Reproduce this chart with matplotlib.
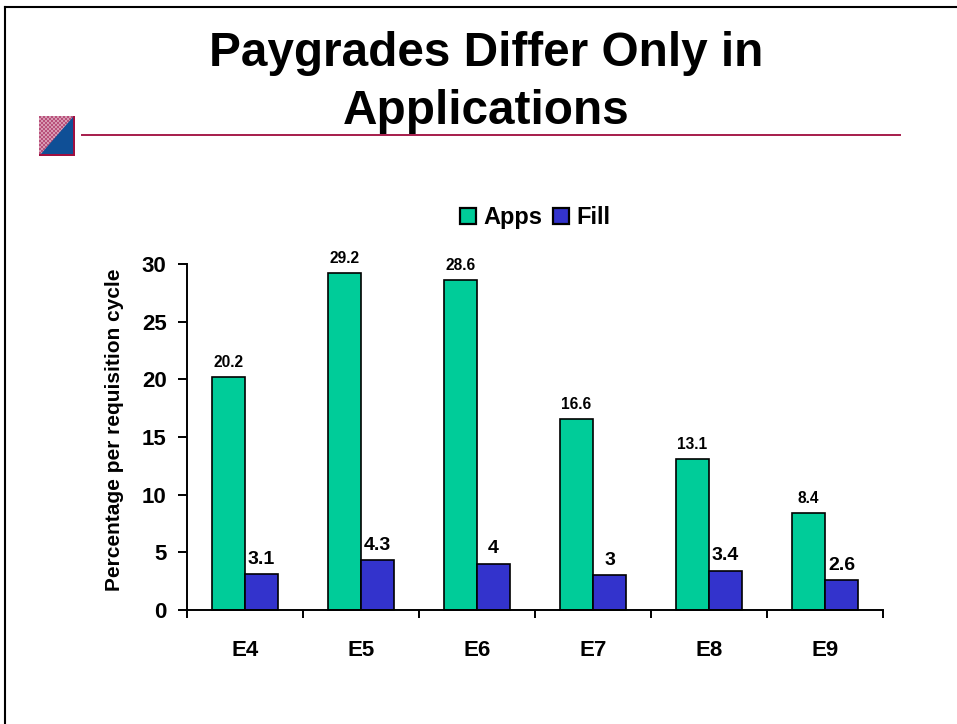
import matplotlib
matplotlib.use("Agg")
import matplotlib.pyplot as plt
import numpy as np
from matplotlib.patches import Polygon, Rectangle, Patch
from matplotlib.lines import Line2D
from matplotlib.colors import ListedColormap

categories = ["E4", "E5", "E6", "E7", "E8", "E9"]
apps = [20.2, 29.2, 28.6, 16.6, 13.1, 8.4]
fill = [3.1, 4.3, 4, 3, 3.4, 2.6]
app_labels = ["20.2", "29.2", "28.6", "16.6", "13.1", "8.4"]
fill_labels = ["3.1", "4.3", "4", "3", "3.4", "2.6"]
yticks = [0, 5, 10, 15, 20, 25, 30]

W, H = 957, 724
plt.rcParams["font.family"] = ["Liberation Sans", "DejaVu Sans"]
plt.rcParams["font.weight"] = "bold"
fig = plt.figure(figsize=(W / 100, H / 100), dpi=100, facecolor="white")

def fx(x): return x / W
def fy(y): return 1 - y / H

# slide frame
fig.add_artist(Line2D([fx(5.2), fx(5.2)], [0, fy(6.5)], color="black", lw=1.5))
fig.add_artist(Line2D([fx(5), 1], [fy(6.8), fy(6.8)], color="black", lw=1.5))

# title and rule
fig.text(fx(486.5), fy(65.5), "Paygrades Differ Only in", ha="center", va="baseline", fontsize=34.4, fontweight="bold")
fig.text(fx(486.5), fy(124), "Applications", ha="center", va="baseline", fontsize=34.4, fontweight="bold")
fig.add_artist(Line2D([fx(82), fx(900)], [fy(135), fy(135)], color="#A61C4B", lw=1.4))

# logo
logo = fig.add_axes([fx(39), fy(156), 36 / W, 40 / H])
logo.set_xlim(0, 1); logo.set_ylim(0, 1); logo.axis("off")
checker = np.indices((20, 18)).sum(axis=0) % 2
logo.imshow(checker, extent=(0, 1, 0, 1), aspect="auto", interpolation="nearest",
            cmap=ListedColormap(["#B8507A", "#D79AB2"]))
logo.add_patch(Polygon([(0.03, 0.03), (0.94, 0.03), (0.94, 0.97)], fc="#0F4F96", ec="none"))
logo.add_patch(Rectangle((0.94, 0), 0.06, 1, fc="#A01040", ec="none"))
logo.add_patch(Rectangle((0, 0), 1, 0.04, fc="#A01040", ec="none"))

# chart
x0, x1, y0, y30 = 187, 883, 610, 264
ax = fig.add_axes([fx(x0), fy(y0), (x1 - x0) / W, (y0 - y30) / H])
ax.set_xlim(0, 6)
ax.set_ylim(0, 30)
pos = list(range(6))
bw = 33 / 116
GREEN, BLUE = "#00CC99", "#3333CC"
b1 = ax.bar([p + 0.5 - bw / 2 for p in pos], apps, bw, color=GREEN, edgecolor="black", linewidth=1.2, clip_on=False)
b2 = ax.bar([p + 0.5 + bw / 2 for p in pos], fill, bw, color=BLUE, edgecolor="black", linewidth=1.2, clip_on=False)

for r, t in zip(b1, app_labels):
    ax.annotate(t, (r.get_x() + r.get_width() / 2, r.get_height()), xytext=(0, 10), textcoords="offset pixels",
                ha="center", va="baseline", fontsize=11.2, fontweight="bold", annotation_clip=False)
for r, t in zip(b2, fill_labels):
    ax.annotate(t, (r.get_x() + r.get_width() / 2, r.get_height()), xytext=(0, 10.5), textcoords="offset pixels",
                ha="center", va="baseline", fontsize=14, fontweight="bold", annotation_clip=False)

for s in ("top", "right"):
    ax.spines[s].set_visible(False)
for s in ("left", "bottom"):
    ax.spines[s].set_linewidth(1.4)
ax.set_yticks(yticks)
ax.set_xticks(range(7))
ax.set_xticklabels([])
ax.tick_params(axis="y", direction="out", length=6.2, width=1.4, labelsize=16, pad=8.5)
ax.tick_params(axis="x", direction="out", length=5.8, width=1.4)
for p, c in zip(pos, categories):
    ax.annotate(c, (p + 0.5, 0), xytext=(0, -46), textcoords="offset pixels", ha="center", va="baseline",
                fontsize=16, fontweight="bold", annotation_clip=False)
fig.text(fx(115), fy(429.5), "Percentage per requisition cycle", rotation=90, ha="center", va="center",
         fontsize=15, fontweight="bold")

# legend
handles = [Patch(facecolor=GREEN, edgecolor="black", linewidth=1.6),
           Patch(facecolor=BLUE, edgecolor="black", linewidth=1.6)]
fig.legend(handles, ["Apps", "Fill"], loc="center", bbox_to_anchor=(fx(535), fy(217.5)), ncol=2, frameon=False,
           handlelength=0.68, handleheight=0.68, handletextpad=0.3, columnspacing=0.47,
           borderpad=0, prop={"size": 17, "weight": "bold"})

fig.savefig("out.png", dpi=100, facecolor="white")
